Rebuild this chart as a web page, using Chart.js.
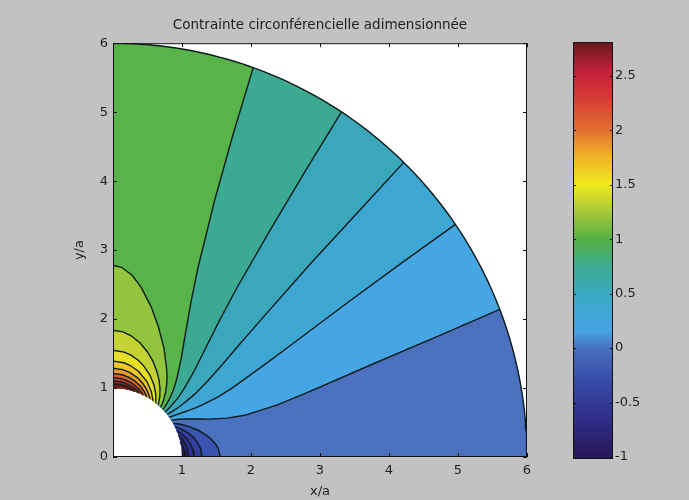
<!DOCTYPE html>
<html>
<head>
<meta charset="utf-8">
<script src="https://cdn.jsdelivr.net/npm/chart.js@4.4.0/dist/chart.umd.min.js"></script>
<style>
  html, body { margin: 0; padding: 0; background: #c2c2c2; }
</style>
</head>
<body>
<canvas id="chart" width="689" height="500"></canvas>
<script>
// ===== DATA =====
const titleText = 'Contrainte circonférencielle adimensionnée';
const xTicks = [0, 1, 2, 3, 4, 5, 6];
const yTicks = [0, 1, 2, 3, 4, 5, 6];
const cbTicks = [-1, -0.5, 0, 0.5, 1, 1.5, 2, 2.5];
const cbMin = -1;
const cbMax = 2.8;
const holeRadius = 1;
const outerRadius = 6;

// contour levels (sigma_theta / sigma)
const levels = [-0.81, -0.62, -0.43, -0.24, -0.05, 0.14, 0.33, 0.52, 0.71, 0.90,
                1.09, 1.28, 1.47, 1.66, 1.85, 2.04, 2.23, 2.42, 2.61];

// fill colour of each band, band 0 = below the first level
const bandColors = ['#261a5e', '#2c2478', '#30308e', '#343ea0', '#3a52b0', '#4a70be',
                    '#46a6e4', '#3ea6d2', '#3aa8ba', '#3caa92', '#58b448', '#92c43e',
                    '#c4d234', '#e6e022', '#f0c426', '#e89a2e', '#d66a2e', '#bc3c2a',
                    '#962a22', '#6e1e1a'];

// contour lines, as [r/a, angle in degrees] from the hole outwards
const contours = [
  [[1, 12.6], [1.02, 9.1], [1.035, 5.3], [1.042, 0]],
  [[1, 18.0], [1.03, 14.9], [1.06, 11.0], [1.085, 6.3], [1.097, 0]],
  [[1, 22.2], [1.05, 18.5], [1.1, 14.1], [1.13, 10.7], [1.15, 7.8], [1.165, 4.5], [1.173, 0]],
  [[1, 25.8], [1.05, 23.3], [1.1, 20.4], [1.15, 17.3], [1.2, 13.6], [1.25, 9.0], [1.275, 5.5], [1.29, 0]],
  [[1, 29.2], [1.05, 27.3], [1.1, 25.4], [1.2, 21.4], [1.3, 17.2], [1.4, 12.6], [1.45, 10.1], [1.5, 7.1], [1.53, 4.6], [1.554, 0]],
  [[1, 32.3], [1.05, 31.0], [1.1, 29.8], [1.2, 27.3], [1.3, 25.1], [1.4, 23.2], [1.5, 21.5], [1.75, 18.8], [2, 17.6], [2.5, 17.6], [3, 18.4], [4, 19.7], [5, 20.4], [6, 20.9]],
  [[1, 35.2], [1.05, 34.5], [1.1, 33.8], [1.2, 32.5], [1.3, 31.5], [1.4, 30.7], [1.5, 30.3], [1.75, 29.8], [2, 30.1], [2.5, 31.2], [3, 32.1], [4, 33.3], [5, 33.9], [6, 34.2]],
  [[1, 38.1], [1.1, 37.5], [1.2, 37.2], [1.3, 37.2], [1.4, 37.4], [1.5, 37.6], [1.75, 38.7], [2, 39.9], [2.5, 41.8], [3, 43.0], [4, 44.4], [5, 45.0], [6, 45.4]],
  [[1, 40.8], [1.1, 41.2], [1.2, 41.8], [1.3, 42.6], [1.4, 43.6], [1.5, 44.6], [1.75, 47.0], [2, 49.1], [2.5, 52.0], [3, 53.7], [4, 55.3], [5, 56.1], [6, 56.5]],
  [[1, 43.6], [1.05, 44.1], [1.1, 44.8], [1.2, 46.2], [1.3, 47.9], [1.4, 49.7], [1.5, 51.5], [1.75, 55.5], [2, 58.8], [2.5, 63.2], [3, 65.8], [4, 68.4], [5, 69.6], [6, 70.2]],
  [[1, 46.3], [1.05, 47.3], [1.1, 48.3], [1.2, 50.7], [1.3, 53.3], [1.4, 56.0], [1.5, 58.8], [1.75, 65.1], [2, 70.8], [2.25, 75.8], [2.5, 80.7], [2.65, 84.0], [2.75, 87.3], [2.78, 90]],
  [[1, 49.0], [1.1, 52.0], [1.2, 55.4], [1.3, 59.1], [1.4, 63.1], [1.5, 67.2], [1.6, 71.7], [1.7, 76.6], [1.78, 81.7], [1.82, 85.5], [1.837, 90]],
  [[1, 51.8], [1.1, 55.7], [1.2, 60.3], [1.3, 65.6], [1.4, 71.7], [1.45, 75.4], [1.5, 80.0], [1.53, 83.9], [1.548, 90]],
  [[1, 54.6], [1.1, 59.7], [1.2, 65.8], [1.3, 73.7], [1.35, 79.3], [1.375, 83.4], [1.39, 90]],
  [[1, 57.6], [1.05, 60.6], [1.1, 64.0], [1.15, 67.9], [1.2, 72.5], [1.25, 78.8], [1.275, 83.8], [1.286, 90]],
  [[1, 60.7], [1.05, 64.4], [1.1, 68.8], [1.15, 74.4], [1.18, 79.0], [1.2, 83.6], [1.21, 90]],
  [[1, 64.0], [1.05, 68.7], [1.1, 74.9], [1.13, 80.2], [1.145, 84.6], [1.152, 90]],
  [[1, 67.6], [1.03, 71.1], [1.06, 75.4], [1.085, 80.5], [1.098, 84.6], [1.104, 90]],
  [[1, 71.8], [1.02, 74.9], [1.04, 78.8], [1.055, 83.1], [1.064, 90]]
];

// colour bar (jet-like map as printed)
const cbStops = [[-1, '#2a1858'], [-0.7, '#2e2a82'], [-0.35, '#3646a4'], [0, '#4870c0'],
                 [0.15, '#46a2e4'], [0.45, '#3aa8c8'], [0.75, '#3caa90'], [1.0, '#54b044'],
                 [1.25, '#a8c83a'], [1.5, '#f0ea1e'], [1.75, '#f0b426'], [2.0, '#e27030'],
                 [2.3, '#d63a34'], [2.55, '#c0203a'], [2.8, '#6a1a1e']];

// ===== GEOMETRY HELPERS =====
const lineColor = '#0e1c1c';
const DEG = Math.PI / 180;

function polarToXY(r, a) {
    return { x: r * Math.cos(a * DEG), y: r * Math.sin(a * DEG) };
}

function arcPoints(r, from, to) {
    const n = Math.max(2, Math.ceil(Math.abs(to - from)));
    const pts = [];
    for (let i = 0; i <= n; i++) pts.push(polarToXY(r, from + (to - from) * i / n));
    return pts;
}

// region where the stress is above a level: between the contour and the y axis
function superlevel(line) {
    const pts = line.map(([r, a]) => polarToXY(r, a));
    const [rEnd, aEnd] = line[line.length - 1];
    if (aEnd === 0) pts.push(...arcPoints(outerRadius, 0, 90));
    else if (rEnd === outerRadius) pts.push(...arcPoints(outerRadius, aEnd, 90));
    pts.push(...arcPoints(holeRadius, 90, line[0][1]));
    return pts;
}

// ===== DATASETS =====
const fillBase = { showLine: true, pointRadius: 0, pointHoverRadius: 0, borderWidth: 0,
                   borderColor: 'transparent', fill: 'shape', tension: 0, yAxisID: 'y' };

const datasets = [];
datasets.push({ ...fillBase, label: 'band 0',
    data: [...arcPoints(outerRadius, 0, 90), ...arcPoints(holeRadius, 90, 0)],
    backgroundColor: bandColors[0], order: 100 });

levels.forEach((lv, i) => {
    datasets.push({ ...fillBase, label: 'σθ ≥ ' + lv, data: superlevel(contours[i]),
        backgroundColor: bandColors[i + 1], order: 99 - i });
});

contours.forEach((c, i) => {
    datasets.push({ label: 'σθ = ' + levels[i], data: c.map(([r, a]) => polarToXY(r, a)),
        showLine: true, pointRadius: 0, borderColor: lineColor, borderWidth: 1.4,
        fill: false, tension: 0, yAxisID: 'y', order: 1 });
});

datasets.push({ label: 'r = 6', data: arcPoints(outerRadius, 0, 90), showLine: true,
    pointRadius: 0, borderColor: lineColor, borderWidth: 1.4, fill: false, yAxisID: 'y', order: 0 });

// ===== FRAME, TICKS, COLOUR BAR =====
const framePlugin = {
    id: 'frame',
    beforeDraw(chart) {
        const { ctx, chartArea: a } = chart;
        ctx.save();
        ctx.fillStyle = '#c2c2c2';
        ctx.fillRect(0, 0, chart.width, chart.height);
        ctx.fillStyle = '#ffffff';
        ctx.fillRect(a.left, a.top, a.right - a.left, a.bottom - a.top);
        ctx.restore();
    },
    afterDraw(chart) {
        const { ctx, chartArea: a, scales } = chart;
        ctx.save();
        ctx.strokeStyle = '#111';
        ctx.lineWidth = 1;
        ctx.strokeRect(a.left + 0.5, a.top + 0.5, a.right - a.left - 1, a.bottom - a.top - 1);

        ctx.beginPath();
        xTicks.forEach(v => {
            const px = Math.round(scales.x.getPixelForValue(v)) + 0.5;
            ctx.moveTo(px, a.bottom); ctx.lineTo(px, a.bottom - 4);
            ctx.moveTo(px, a.top); ctx.lineTo(px, a.top + 4);
        });
        yTicks.forEach(v => {
            const py = Math.round(scales.y.getPixelForValue(v)) + 0.5;
            ctx.moveTo(a.left, py); ctx.lineTo(a.left + 4, py);
            ctx.moveTo(a.right, py); ctx.lineTo(a.right - 4, py);
        });
        ctx.stroke();

        // colour bar
        const cb = scales.cb;
        const x0 = a.right + 46, w = 40;
        const yTop = cb.getPixelForValue(cbMax) - 1, yBot = cb.getPixelForValue(cbMin) + 2;
        const g = ctx.createLinearGradient(0, yBot, 0, yTop);
        cbStops.forEach(([v, c]) => g.addColorStop(Math.min(1, Math.max(0, (cb.getPixelForValue(v) - yBot) / (yTop - yBot))), c));
        ctx.fillStyle = g;
        ctx.fillRect(x0, yTop, w, yBot - yTop);
        ctx.strokeRect(x0 + 0.5, yTop + 0.5, w - 1, yBot - yTop - 1);
        ctx.beginPath();
        cbTicks.forEach(v => {
            const py = Math.round(cb.getPixelForValue(v)) + 0.5;
            ctx.moveTo(x0, py); ctx.lineTo(x0 + 3, py);
            ctx.moveTo(x0 + w, py); ctx.lineTo(x0 + w - 3, py);
        });
        ctx.stroke();
        ctx.restore();
    }
};

Chart.defaults.font.family = "'DejaVu Sans', 'Liberation Sans', Arial, sans-serif";
Chart.defaults.color = '#1e1e1e';

const tickFont = { size: 13 };

new Chart(document.getElementById('chart'), {
    type: 'scatter',
    data: { datasets },
    options: {
        responsive: false,
        animation: false,
        events: [],
        devicePixelRatio: 1,
        layout: { padding: { left: 0, right: 49, top: 0, bottom: 0 } },
        plugins: {
            legend: { display: false },
            tooltip: { enabled: false },
            title: { display: true, text: titleText, color: '#1e1e1e',
                     font: { size: 13.5, weight: 'normal' }, padding: { top: 17, bottom: 10 } }
        },
        scales: {
            x: {
                type: 'linear', min: 0, max: 6,
                afterBuildTicks: s => { s.ticks = xTicks.map(v => ({ value: v })); },
                afterFit: s => { s.height = 43; },
                grid: { display: false, drawTicks: false },
                border: { display: false },
                ticks: { font: tickFont, padding: 6, maxRotation: 0,
                         callback: v => (v === 0 ? '' : String(v)) },
                title: { display: true, text: 'x/a', font: tickFont, padding: { top: 0, bottom: 1 } }
            },
            y: {
                type: 'linear', position: 'left', min: 0, max: 6,
                afterBuildTicks: s => { s.ticks = yTicks.map(v => ({ value: v })); },
                afterFit: s => { s.width = 113; },
                grid: { display: false, drawTicks: false },
                border: { display: false },
                ticks: { font: tickFont, padding: 5, callback: v => String(v) },
                title: { display: true, text: 'y/a', font: tickFont, padding: { top: 72, bottom: 0 } }
            },
            cb: {
                type: 'linear', position: 'right', min: cbMin, max: cbMax,
                afterBuildTicks: s => { s.ticks = cbTicks.map(v => ({ value: v })); },
                afterFit: s => { s.width = 113; },
                grid: { display: true, drawOnChartArea: false, drawTicks: true,
                        tickLength: 84, tickColor: 'transparent' },
                border: { display: false },
                ticks: { font: tickFont, padding: 4, callback: v => String(v) }
            }
        }
    },
    plugins: [framePlugin]
});
</script>
</body>
</html>
